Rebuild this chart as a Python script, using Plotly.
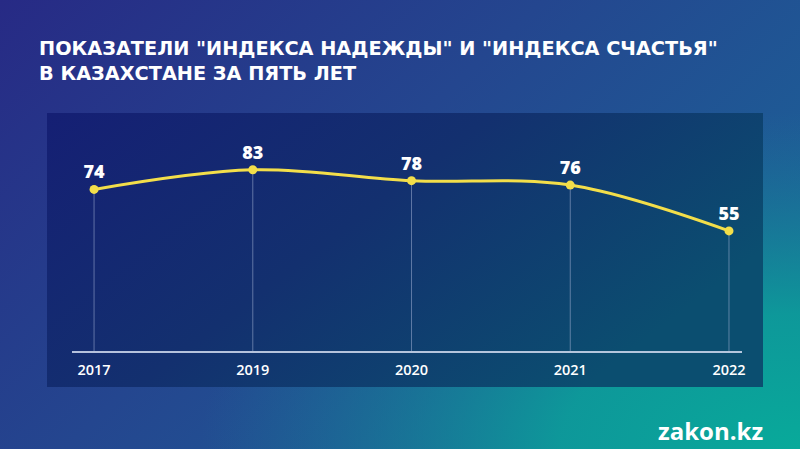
import base64
import plotly.graph_objects as go

years = ["2017", "2019", "2020", "2021", "2022"]
values = [74, 83, 78, 76, 55]
title_lines = ['ПОКАЗАТЕЛИ "ИНДЕКСА НАДЕЖДЫ" И "ИНДЕКСА СЧАСТЬЯ"', "В КАЗАХСТАНЕ ЗА ПЯТЬ ЛЕТ"]
brand = "zakon.kz"

W, H = 800, 449
L, R, T, B = 72, 58, 113, 98
PW, PH = W - L - R, H - T - B


def svg_uri(svg):
    return "data:image/svg+xml;base64," + base64.b64encode(svg.encode()).decode()


bg_svg = (
    '<svg xmlns="http://www.w3.org/2000/svg" width="800" height="449" preserveAspectRatio="none">'
    '<defs><linearGradient id="g" x1="0" y1="0" x2="1" y2="0.6">'
    '<stop offset="0" stop-color="#272a85"/>'
    '<stop offset="0.5" stop-color="#24468f"/>'
    '<stop offset="1" stop-color="#1c6298"/>'
    '</linearGradient>'
    '<radialGradient id="r" cx="1" cy="1" r="0.75" fx="1" fy="1">'
    '<stop offset="0" stop-color="#08aa9a" stop-opacity="1"/>'
    '<stop offset="0.4" stop-color="#0c9e9a" stop-opacity="0.9"/>'
    '<stop offset="1" stop-color="#1a7a98" stop-opacity="0"/>'
    '</radialGradient></defs>'
    '<rect width="800" height="449" fill="url(#g)"/>'
    '<rect width="800" height="449" fill="url(#r)"/></svg>'
)
panel_svg = (
    '<svg xmlns="http://www.w3.org/2000/svg" width="716" height="274" preserveAspectRatio="none">'
    '<defs><linearGradient id="p" x1="0" y1="0" x2="1" y2="0.5">'
    '<stop offset="0" stop-color="#151f74"/>'
    '<stop offset="0.5" stop-color="#13306f"/>'
    '<stop offset="1" stop-color="#0b4e70"/>'
    '</linearGradient></defs><rect width="716" height="274" fill="url(#p)"/></svg>'
)


def px2x(px):
    return (px - L) / PW


def py2y(py):
    return (H - B - py) / PH


fig = go.Figure()

# drop lines from each point to the axis
dx, dy = [], []
for c, v in zip(years, values):
    dx += [c, c, None]
    dy += [v, 0, None]
fig.add_trace(go.Scatter(x=dx, y=dy, mode="lines",
                         line=dict(color="rgba(160,175,210,0.55)", width=1),
                         hoverinfo="skip", showlegend=False))

fig.add_trace(go.Scatter(
    x=years, y=values, mode="lines+markers+text",
    line=dict(color="#f3de4a", width=3, shape="spline", smoothing=1),
    marker=dict(color="#f3de4a", size=9),
    text=[str(v) for v in values], textposition="top center",
    textfont=dict(family="Open Sans", size=18, color="white", weight=800),
    showlegend=False, cliponaxis=False))

fig.update_layout(
    width=W, height=H,
    margin=dict(l=L, r=R, t=T, b=B),
    paper_bgcolor="#22458c", plot_bgcolor="rgba(0,0,0,0)",
    xaxis=dict(type="category", range=[-0.139, 4.082], showgrid=False, zeroline=False,
               showline=True, linecolor="rgba(210,220,240,0.85)", linewidth=1.5,
               ticks="", tickfont=dict(family="Open Sans", size=14.5, color="white", weight=600),
               ticklabelstandoff=5),
    yaxis=dict(range=[0, 109], visible=False),
    images=[
        dict(source=svg_uri(bg_svg), xref="paper", yref="paper", x=px2x(0), y=py2y(0),
             sizex=W / PW, sizey=H / PH, sizing="stretch", layer="below",
             xanchor="left", yanchor="top"),
        dict(source=svg_uri(panel_svg), xref="paper", yref="paper", x=px2x(47), y=py2y(113),
             sizex=716 / PW, sizey=274 / PH, sizing="stretch", layer="below",
             xanchor="left", yanchor="top"),
    ],
    annotations=[
        dict(text="<br>".join(title_lines), xref="paper", yref="paper",
             x=px2x(37), y=py2y(35), xanchor="left", yanchor="top", align="left",
             showarrow=False,
             font=dict(family="DejaVu Sans", size=19.3, color="white", weight="bold")),
        dict(text=brand, xref="paper", yref="paper", x=px2x(765), y=py2y(430),
             xanchor="right", yanchor="middle", showarrow=False,
             font=dict(family="Open Sans", size=24, color="white", weight=700)),
    ],
)

fig.write_html("out.html")
